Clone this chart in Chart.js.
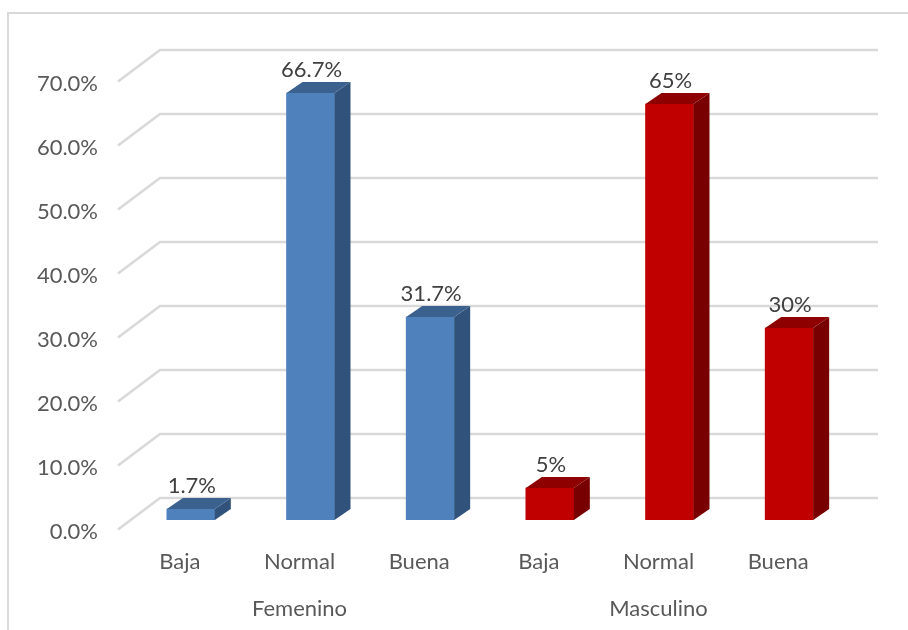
<!DOCTYPE html>
<html>
<head>
<meta charset="utf-8">
<script src="https://cdn.jsdelivr.net/npm/chart.js@4"></script>
<style>
    html, body { margin: 0; padding: 0; background: #fff; overflow: hidden; }
    #wrap { position: relative; width: 908px; height: 630px; overflow: hidden; }
    #frame { position: absolute; left: 7px; top: 12px; width: 1000px; height: 700px; border: 2px solid #d9d9d9; }
    canvas { position: absolute; left: 0; top: 0; }
</style>
</head>
<body>
<div id="wrap">
    <div id="frame"></div>
    <canvas id="chart" width="908" height="630"></canvas>
</div>
<script>
const categories = ['Baja', 'Normal', 'Buena', 'Baja', 'Normal', 'Buena'];
const groups = ['Femenino', 'Masculino'];
const values = [1.7, 66.7, 31.7, 5, 65, 30];
const valueLabels = ['1.7%', '66.7%', '31.7%', '5%', '65%', '30%'];
const tickValues = [0, 10, 20, 30, 40, 50, 60, 70];
const frontColors = ['#4f81bd', '#4f81bd', '#4f81bd', '#c00000', '#c00000', '#c00000'];
const sideColors = ['#31527a', '#31527a', '#31527a', '#780000', '#780000', '#780000'];
const topColors = ['#3b628f', '#3b628f', '#3b628f', '#8e0000', '#8e0000', '#8e0000'];

const FONT = 'Lato, sans-serif';

// Walls and floor of the fake 3D box
const wallPlugin = {
    id: 'walls',
    beforeDatasetsDraw(chart) {
        const { ctx, chartArea, scales } = chart;
        ctx.save();
        ctx.strokeStyle = '#d9d9d9';
        ctx.lineWidth = 2.5;
        tickValues.forEach(v => {
            const y = scales.y.getPixelForValue(v);
            ctx.beginPath();
            ctx.moveTo(chartArea.left - 13, y + 9.5);
            ctx.lineTo(chartArea.left + 29, y - 22);
            ctx.lineTo(chartArea.right + 29, y - 22);
            ctx.stroke();
        });
        ctx.restore();
    }
};

// Side and top faces of the bars, plus the value labels
const barFacePlugin = {
    id: 'barFaces',
    afterDatasetsDraw(chart) {
        const { ctx } = chart;
        const dx = 16, dy = 11;
        ctx.save();
        chart.getDatasetMeta(0).data.forEach((bar, i) => {
            const left = bar.x - bar.width / 2;
            const right = bar.x + bar.width / 2;
            ctx.fillStyle = sideColors[i];
            ctx.beginPath();
            ctx.moveTo(right, bar.y);
            ctx.lineTo(right + dx, bar.y - dy);
            ctx.lineTo(right + dx, bar.base - dy);
            ctx.lineTo(right, bar.base);
            ctx.closePath();
            ctx.fill();
            ctx.fillStyle = topColors[i];
            ctx.beginPath();
            ctx.moveTo(left, bar.y);
            ctx.lineTo(left + dx, bar.y - dy);
            ctx.lineTo(right + dx, bar.y - dy);
            ctx.lineTo(right, bar.y);
            ctx.closePath();
            ctx.fill();
            ctx.fillStyle = '#404040';
            ctx.font = '22px ' + FONT;
            ctx.textAlign = 'center';
            ctx.textBaseline = 'middle';
            ctx.fillText(valueLabels[i], bar.x + 1, bar.y - 23);
        });
        ctx.restore();
    }
};

new Chart(document.getElementById('chart'), {
    type: 'bar',
    data: {
        labels: categories,
        datasets: [{
            data: values,
            backgroundColor: frontColors,
            barThickness: 48
        }]
    },
    options: {
        responsive: false,
        animation: false,
        layout: { padding: { left: 0, right: 59, top: 72, bottom: 0 } },
        plugins: { legend: { display: false }, tooltip: { enabled: false } },
        scales: {
            x: {
                offset: true,
                grid: { display: false, drawTicks: false },
                border: { display: false },
                ticks: { autoSkip: false, maxRotation: 0, labelOffset: -11, padding: 29, color: '#595959', font: { family: FONT, size: 22 } },
                afterFit(scale) { scale.height = 62; }
            },
            x2: {
                type: 'category',
                labels: groups,
                position: 'bottom',
                offset: true,
                grid: { display: false, drawTicks: false },
                border: { display: false },
                ticks: { autoSkip: false, maxRotation: 0, labelOffset: -11, padding: 14, color: '#595959', font: { family: FONT, size: 22 } },
                afterFit(scale) { scale.height = 48; }
            },
            y: {
                min: 0,
                max: 70,
                afterBuildTicks(scale) { scale.ticks = tickValues.map(v => ({ value: v })); },
                grid: { display: false, drawTicks: false },
                border: { display: false },
                ticks: {
                    labelOffset: 12,
                    padding: 33,
                    color: '#595959',
                    font: { family: FONT, size: 22 },
                    callback: v => v.toFixed(1) + '%'
                },
                afterFit(scale) { scale.width = 131; }
            }
        }
    },
    plugins: [wallPlugin, barFacePlugin]
});
</script>
</body>
</html>
